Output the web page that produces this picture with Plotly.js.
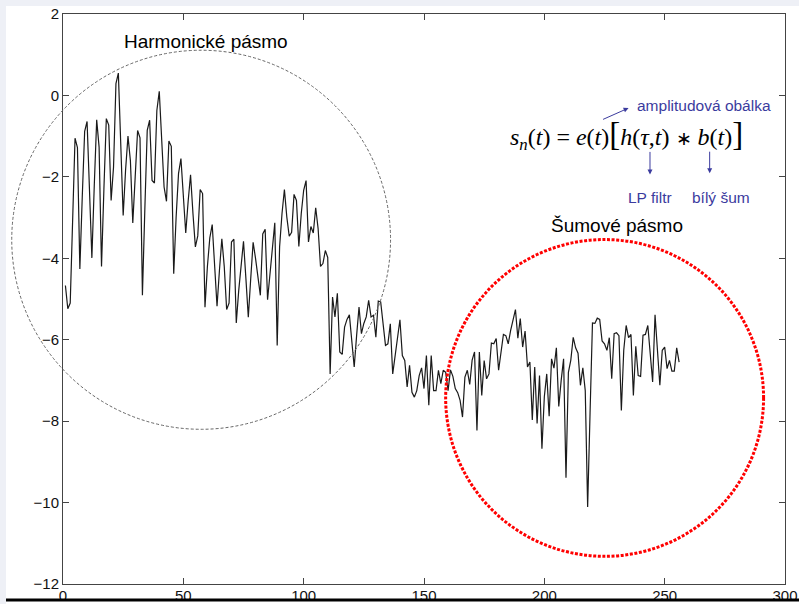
<!DOCTYPE html>
<html><head><meta charset="utf-8">
<script src="https://cdn.plot.ly/plotly-3.0.1.min.js"></script>
<style>
html,body{margin:0;padding:0;background:#eef0f6;width:799px;height:604px;overflow:hidden}
#chart{width:799px;height:604px}
</style></head>
<body><div id="chart"></div>
<script>
// Signal values s_n(t), one per sample (t = 1..256)
const signal = [
 -4.67,-5.24,-5.10,-3.00,-1.05,-1.28,-4.26,-2.50,-0.88,-0.64,
 -2.30,-3.99,-2.20,-0.60,-1.27,-4.20,-2.30,-0.57,-0.73,-2.58,
 -1.76, 0.29, 0.55,-1.20,-2.95,-1.84,-1.00,-1.60,-3.13,-2.00,
 -0.86,-1.04,-4.91,-2.80,-0.86,-0.61,-2.09,-2.15,-0.37, 0.10,
 -1.00,-2.25,-2.60,-1.12,-1.25,-4.38,-3.00,-1.92,-1.55,-2.60,
 -3.38,-2.60,-1.95,-2.90,-3.72,-3.45,-2.31,-2.41,-5.20,-4.20,
 -3.50,-3.17,-4.20,-5.18,-4.30,-3.52,-4.20,-5.26,-5.10,-3.60,
 -3.53,-5.59,-4.80,-4.20,-3.58,-4.50,-5.45,-4.50,-3.61,-4.00,
 -4.50,-4.91,-3.40,-3.29,-5.02,-4.40,-3.70,-3.13,-6.14,-3.72,
 -2.90,-2.31,-2.99,-3.46,-3.36,-2.43,-2.58,-3.71,-2.90,-2.33,
 -2.09,-3.60,-3.22,-3.38,-2.76,-3.27,-4.20,-4.13,-3.81,-3.98,
 -6.84,-4.95,-5.44,-4.86,-6.30,-6.36,-5.69,-5.50,-5.39,-6.14,
 -6.67,-5.90,-5.20,-5.85,-5.60,-5.44,-5.03,-5.44,-5.40,-5.94,
 -5.05,-5.07,-5.61,-6.14,-6.10,-5.61,-6.84,-6.35,-5.98,-5.51,
 -6.39,-6.51,-7.16,-6.63,-7.29,-7.41,-7.25,-6.88,-6.69,-7.20,
 -6.39,-7.61,-6.39,-7.25,-7.25,-6.75,-7.08,-6.75,-6.80,-7.25,
 -6.74,-6.90,-7.20,-7.30,-7.49,-7.90,-6.92,-6.75,-7.10,-6.50,
 -6.30,-8.23,-6.30,-7.37,-6.51,-6.96,-6.84,-6.08,-6.10,-5.97,
 -6.75,-6.30,-5.87,-5.90,-6.10,-5.77,-5.48,-5.26,-5.96,-5.48,
 -6.18,-5.79,-6.67,-6.55,-7.97,-6.67,-8.06,-6.88,-8.68,-7.40,
 -6.84,-7.88,-6.47,-6.70,-6.20,-7.64,-7.00,-6.47,-9.39,-6.80,
 -6.50,-5.94,-6.20,-6.33,-7.12,-6.69,-7.25,-10.11,-7.80,-5.59,
 -5.60,-5.47,-5.50,-6.03,-6.10,-6.26,-5.95,-6.96,-5.85,-5.83,
 -5.90,-7.74,-6.26,-5.65,-5.95,-5.87,-7.37,-6.16,-6.88,-6.90,
 -5.89,-5.87,-5.65,-6.26,-7.04,-5.39,-6.30,-7.12,-6.26,-6.18,
 -6.71,-6.51,-6.77,-6.77,-6.20,-6.55
];
const sampleIndex = signal.map((_, i) => i + 1);

const xTickValues = [0, 50, 100, 150, 200, 250, 300];
const yTickValues = [-12, -10, -8, -6, -4, -2, 0, 2];
const bandLabels = ["Harmonické pásmo", "Šumové pásmo"];
const noteLabels = ["amplitudová obálka", "LP filtr", "bílý šum"];
const formulaText = '<i>s</i><sub><i>n</i></sub>(<i>t</i>) = <i>e</i>(<i>t</i>)<span style="font-size:33px">[</span><i>h</i>(<i>τ</i>,<i>t</i>) <span style="font-size:19px">∗</span> <i>b</i>(<i>t</i>)<span style="font-size:33px">]</span>';

const W = 799, H = 604;
const M = {l: 63, r: 14, t: 14, b: 20};
const xRange = [0, 300], yRange = [-12, 2];
const pw = W - M.l - M.r, ph = H - M.t - M.b;
const px = v => (v - xRange[0]) / (xRange[1] - xRange[0]);
const py = v => (v - yRange[0]) / (yRange[1] - yRange[0]);
const pixX = p => (p - M.l) / pw;
const pixY = p => (H - M.b - p) / ph;

const blue = '#3b3b9e';
const axisStyle = {
  showline: true, linecolor: '#444', linewidth: 1, mirror: 'ticks',
  ticks: 'inside', ticklen: 6, tickcolor: '#444', tickwidth: 1,
  showgrid: false, zeroline: false, ticklabeloverflow: 'allow',
  tickfont: {family: 'Liberation Sans, Arial, sans-serif', size: 15, color: '#111'}
};

const layout = {
  width: W, height: H,
  margin: M,
  paper_bgcolor: '#eef0f6', plot_bgcolor: '#ffffff',
  showlegend: false,
  xaxis: Object.assign({}, axisStyle, {range: xRange, tickvals: xTickValues, ticklabelstandoff: -2}),
  yaxis: Object.assign({}, axisStyle, {range: yRange, tickvals: yTickValues}),
  shapes: [
    {type: 'rect', xref: 'paper', yref: 'paper', layer: 'below',
     x0: pixX(6), x1: pixX(W), y0: pixY(H), y1: pixY(6),
     fillcolor: '#ffffff', line: {width: 0}},
    {type: 'circle', xref: 'paper', yref: 'paper', layer: 'above',
     x0: px(-21.3), x1: px(136.1), y0: py(-8.2), y1: py(1.11),
     line: {color: '#666', width: 1, dash: '3px,2px'}},
    {type: 'circle', xref: 'paper', yref: 'paper', layer: 'above',
     x0: px(159.0), x1: px(291.1), y0: py(-11.32), y1: py(-3.54),
     line: {color: '#ff0000', width: 3, dash: '3px,1.6px'}},
    {type: 'line', xref: 'paper', yref: 'paper', layer: 'above',
     x0: pixX(6), x1: pixX(W), y0: pixY(600), y1: pixY(600),
     line: {color: '#000', width: 3}}
  ],
  annotations: [
    {x: 59.3, y: 1.33, xref: 'x', yref: 'y', text: bandLabels[0], showarrow: false,
     font: {family: 'Liberation Sans, Arial, sans-serif', size: 19, color: '#000'}},
    {x: 230.2, y: -3.19, xref: 'x', yref: 'y', text: bandLabels[1], showarrow: false,
     font: {family: 'Liberation Sans, Arial, sans-serif', size: 19, color: '#000'}},
    {x: 234.2, y: -0.97, xref: 'x', yref: 'y', text: formulaText, showarrow: false,
     font: {family: 'Liberation Serif, Times New Roman, serif', size: 24, color: '#000'}},
    {x: 266.5, y: -0.24, xref: 'x', yref: 'y', text: noteLabels[0], showarrow: false,
     font: {family: 'Liberation Sans, Arial, sans-serif', size: 15.5, color: blue}},
    {x: 244.0, y: -2.5, xref: 'x', yref: 'y', text: noteLabels[1], showarrow: false,
     font: {family: 'Liberation Sans, Arial, sans-serif', size: 15.5, color: blue}},
    {x: 273.3, y: -2.5, xref: 'x', yref: 'y', text: noteLabels[2], showarrow: false,
     font: {family: 'Liberation Sans, Arial, sans-serif', size: 15.5, color: blue}},
    {x: 235.0, y: -0.31, xref: 'x', yref: 'y', text: '', showarrow: true,
     ax: -27, ay: 12, arrowhead: 2, arrowsize: 1, arrowwidth: 1, arrowcolor: blue},
    {x: 243.9, y: -1.94, xref: 'x', yref: 'y', text: '', showarrow: true,
     ax: 0, ay: -24, arrowhead: 2, arrowsize: 1, arrowwidth: 1, arrowcolor: blue},
    {x: 268.7, y: -1.91, xref: 'x', yref: 'y', text: '', showarrow: true,
     ax: 0, ay: -23, arrowhead: 2, arrowsize: 1, arrowwidth: 1, arrowcolor: blue}
  ]
};

const traces = [{
  type: 'scatter', mode: 'lines', x: sampleIndex, y: signal,
  line: {color: '#1a1a1a', width: 1.2}, hoverinfo: 'skip'
}];

Plotly.newPlot('chart', traces, layout, {staticPlot: true, displayModeBar: false});
</script>
</body></html>
